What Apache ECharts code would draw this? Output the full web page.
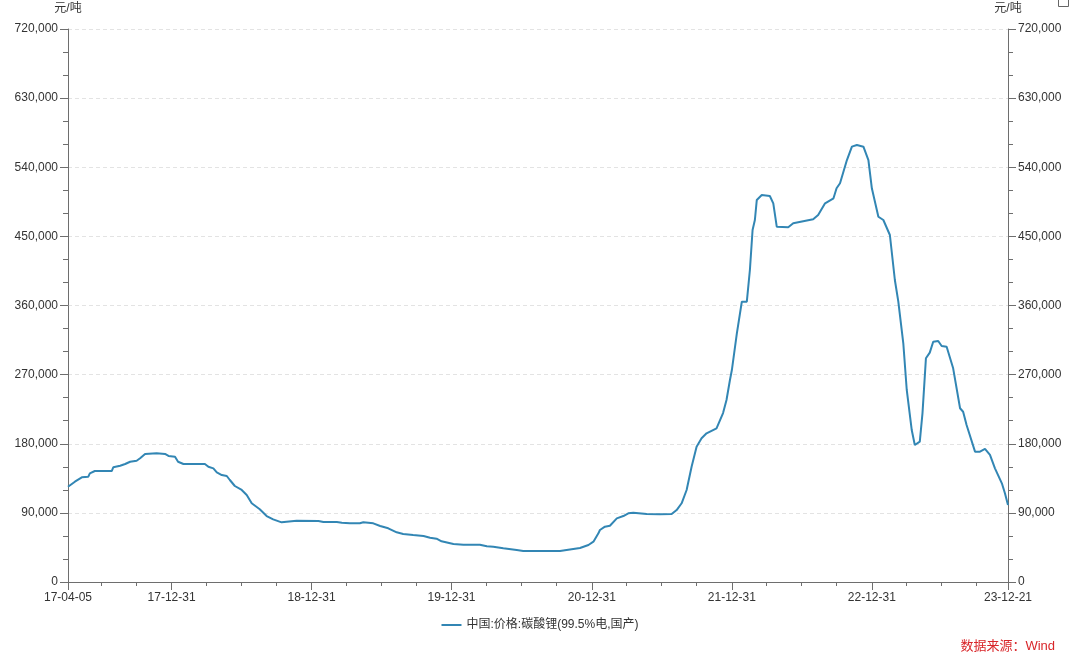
<!DOCTYPE html>
<html>
<head>
<meta charset="utf-8">
<script src="https://cdn.jsdelivr.net/npm/echarts@6/dist/echarts.min.js"></script>
<style>
html,body{margin:0;padding:0;background:#fff;}
#chart{width:1080px;height:660px;}
</style>
</head>
<body>
<div id="chart"></div>
<script>
// ---- data ----
const seriesName = '中国:价格:碳酸锂(99.5%电,国产)';
const unitName = '元/吨';
const sourceText = '数据来源：Wind';

const dates = [
  '2017-04-05','2017-04-23','2017-05-11','2017-05-28','2017-06-01','2017-06-14','2017-07-28','2017-08-01',
  '2017-08-19','2017-09-01','2017-09-14','2017-10-01','2017-10-10','2017-10-23','2017-11-22','2017-12-14',
  '2017-12-23','2018-01-09','2018-01-17','2018-01-31','2018-03-28','2018-04-06','2018-04-19','2018-04-28',
  '2018-05-11','2018-05-24','2018-06-01','2018-06-14','2018-07-02','2018-07-15','2018-07-28','2018-08-18',
  '2018-09-05','2018-09-22','2018-10-14','2018-11-22','2019-01-18','2019-01-31','2019-03-07','2019-03-20',
  '2019-04-10','2019-05-06','2019-05-15','2019-06-10','2019-06-28','2019-07-19','2019-08-10','2019-08-27',
  '2019-09-22','2019-10-19','2019-11-05','2019-11-22','2019-12-05','2020-01-05','2020-01-31','2020-03-14',
  '2020-04-01','2020-04-18','2020-05-14','2020-06-18','2020-07-05','2020-10-09','2020-10-26','2020-11-30',
  '2020-12-22','2021-01-04','2021-01-17','2021-01-21','2021-02-03','2021-02-16','2021-03-06','2021-03-23',
  '2021-04-05','2021-04-18','2021-05-23','2021-06-26','2021-07-27','2021-08-09','2021-08-22','2021-09-04',
  '2021-09-17','2021-09-30','2021-10-13','2021-10-26','2021-11-21','2021-12-08','2021-12-17','2021-12-26',
  '2021-12-31','2022-01-13','2022-01-26','2022-02-08','2022-02-16','2022-02-23','2022-03-01','2022-03-06',
  '2022-03-19','2022-04-09','2022-04-18','2022-04-27','2022-05-27','2022-06-09','2022-07-31','2022-08-13',
  '2022-08-31','2022-09-22','2022-09-30','2022-10-09','2022-10-27','2022-11-09','2022-11-22','2022-12-09',
  '2022-12-22','2022-12-31','2023-01-17','2023-01-30','2023-02-16','2023-03-01','2023-03-10','2023-03-23',
  '2023-04-01','2023-04-14','2023-04-22','2023-05-05','2023-05-12','2023-05-21','2023-05-31','2023-06-09',
  '2023-06-22','2023-07-01','2023-07-14','2023-07-31','2023-08-18','2023-08-26','2023-09-04','2023-09-26',
  '2023-10-09','2023-10-22','2023-11-04','2023-11-17','2023-12-05','2023-12-13','2023-12-21'
];
const prices = [
  124000,130600,136300,137100,141500,144500,144500,149300,
  151400,153600,156600,157900,161100,166700,167600,166700,
  164100,163100,156600,153600,153600,150100,148000,142800,
  139300,138000,132800,125000,119800,113300,102500,94700,
  85900,81600,77700,79800,79400,78100,78100,77200,
  76400,76400,77700,76400,72900,69900,64700,62500,
  61200,59900,57700,56400,53000,49500,48600,48600,
  46500,46000,43900,41700,40400,40400,41700,44300,
  48200,52500,63400,67700,72000,73300,82900,85900,
  89400,90200,88500,88100,88500,93700,102500,119800,
  150100,176200,187100,193600,200100,220000,237000,263000,
  276000,323800,365000,365000,406200,458300,471300,497400,
  503900,502600,493000,462600,461800,467000,472200,477800,
  493000,499600,512600,519100,549400,566800,569000,566800,
  549400,512600,475600,471300,451800,393200,365000,310800,
  250000,197900,178400,182700,219600,291300,298600,312900,
  313800,307300,306400,278200,226200,221700,204400,169700,
  169700,173200,165400,148000,128500,115500,100300
];

const xStart = '2017-04-05';
const xEnd = '2023-12-21';
const xLabelDates = ['2017-04-05','2017-12-31','2018-12-31','2019-12-31','2020-12-31','2021-12-31','2022-12-31','2023-12-21'];
const xMinorTickDates = [
  '2017-06-30','2017-09-30',
  '2018-03-31','2018-06-30','2018-09-30',
  '2019-03-31','2019-06-30','2019-09-30',
  '2020-03-31','2020-06-30','2020-09-30',
  '2021-03-31','2021-06-30','2021-09-30',
  '2022-03-31','2022-06-30','2022-09-30',
  '2023-03-31','2023-06-30','2023-09-30'
];
const yMin = 0, yMax = 720000, yStep = 90000;

// ---- helpers ----
function ts(s){ const p = s.split('-').map(Number); return Date.UTC(p[0], p[1]-1, p[2]); }
function fmtDate(v){
  const d = new Date(v);
  const yy = String(d.getUTCFullYear()).slice(2);
  const mm = String(d.getUTCMonth()+1).padStart(2,'0');
  const dd = String(d.getUTCDate()).padStart(2,'0');
  return yy + '-' + mm + '-' + dd;
}
function fmtNum(v){ return String(Math.round(v)).replace(/\B(?=(\d{3})+(?!\d))/g, ','); }

const lineData = dates.map((d,i)=>[ts(d), prices[i]]);
const FONT = '"Liberation Sans", Arial, "Noto Sans CJK SC", sans-serif';
const AXIS_COLOR = '#6e6e6e';
const TEXT_COLOR = '#333';

const chart = echarts.init(document.getElementById('chart'), null, {renderer:'canvas'});

const yAxisBase = (pos) => ({
  type: 'value',
  position: pos,
  min: yMin, max: yMax, interval: yStep,
  name: unitName,
  nameLocation: 'end',
  nameGap: 14,
  nameTextStyle: { color: TEXT_COLOR, fontSize: 12, fontFamily: FONT, align: 'center' },
  axisLine: { show: true, lineStyle: { color: AXIS_COLOR, width: 1 } },
  axisTick: { show: true, length: 8, lineStyle: { color: AXIS_COLOR } },
  minorTick: { show: true, splitNumber: 3, length: 5, lineStyle: { color: AXIS_COLOR } },
  axisLabel: { color: TEXT_COLOR, fontSize: 12, fontFamily: FONT, margin: 10, formatter: fmtNum },
  splitLine: { show: pos === 'left', lineStyle: { color: '#e3e3e3', type: [4,3], width: 1 } },
  minorSplitLine: { show: false }
});

chart.setOption({
  animation: false,
  backgroundColor: '#fff',
  textStyle: { fontFamily: FONT },
  grid: { left: 68, right: 72, top: 29, bottom: 78, containLabel: false },
  legend: {
    bottom: 24, left: 'center',
    itemWidth: 20, itemHeight: 10, itemGap: 10,
    textStyle: { color: TEXT_COLOR, fontSize: 12, fontFamily: FONT },
    data: [{ name: seriesName, icon: 'path://M0,4 L20,4 L20,6 L0,6 Z' }]
  },
  xAxis: [
    {
      type: 'value',
      position: 'bottom',
      min: ts(xStart), max: ts(xEnd),
      axisLine: { show: true, onZero: false, lineStyle: { color: AXIS_COLOR, width: 1 } },
      axisTick: { show: true, length: 8, customValues: xLabelDates.map(ts), lineStyle: { color: AXIS_COLOR } },
      axisLabel: { show: true, customValues: xLabelDates.map(ts), formatter: fmtDate, color: TEXT_COLOR, fontSize: 12, fontFamily: FONT, margin: 10, showMinLabel: true, showMaxLabel: true, hideOverlap: false },
      splitLine: { show: false }
    },
    {
      type: 'value',
      position: 'bottom',
      offset: 0,
      min: ts(xStart), max: ts(xEnd),
      axisLine: { show: false, onZero: false },
      axisTick: { show: true, length: 4, customValues: xMinorTickDates.map(ts), lineStyle: { color: AXIS_COLOR } },
      axisLabel: { show: false },
      splitLine: { show: false }
    }
  ],
  yAxis: [ yAxisBase('left'), yAxisBase('right') ],
  series: [{
    name: seriesName,
    type: 'line',
    xAxisIndex: 0, yAxisIndex: 0,
    data: lineData,
    symbol: 'none',
    showSymbol: false,
    smooth: false,
    lineStyle: { color: '#3286b4', width: 2 },
    itemStyle: { color: '#3286b4' }
  }],
  graphic: [
    {
      type: 'text', right: 25, top: 640,
      style: { text: sourceText, fill: '#d9262a', fontSize: 13, fontFamily: FONT }
    },
    {
      type: 'rect', left: 1056, top: -6,
      shape: { x: 0, y: 0, width: 10, height: 10 },
      style: { fill: 'none', stroke: '#666', lineWidth: 1 }
    }
  ]
});
</script>
</body>
</html>
